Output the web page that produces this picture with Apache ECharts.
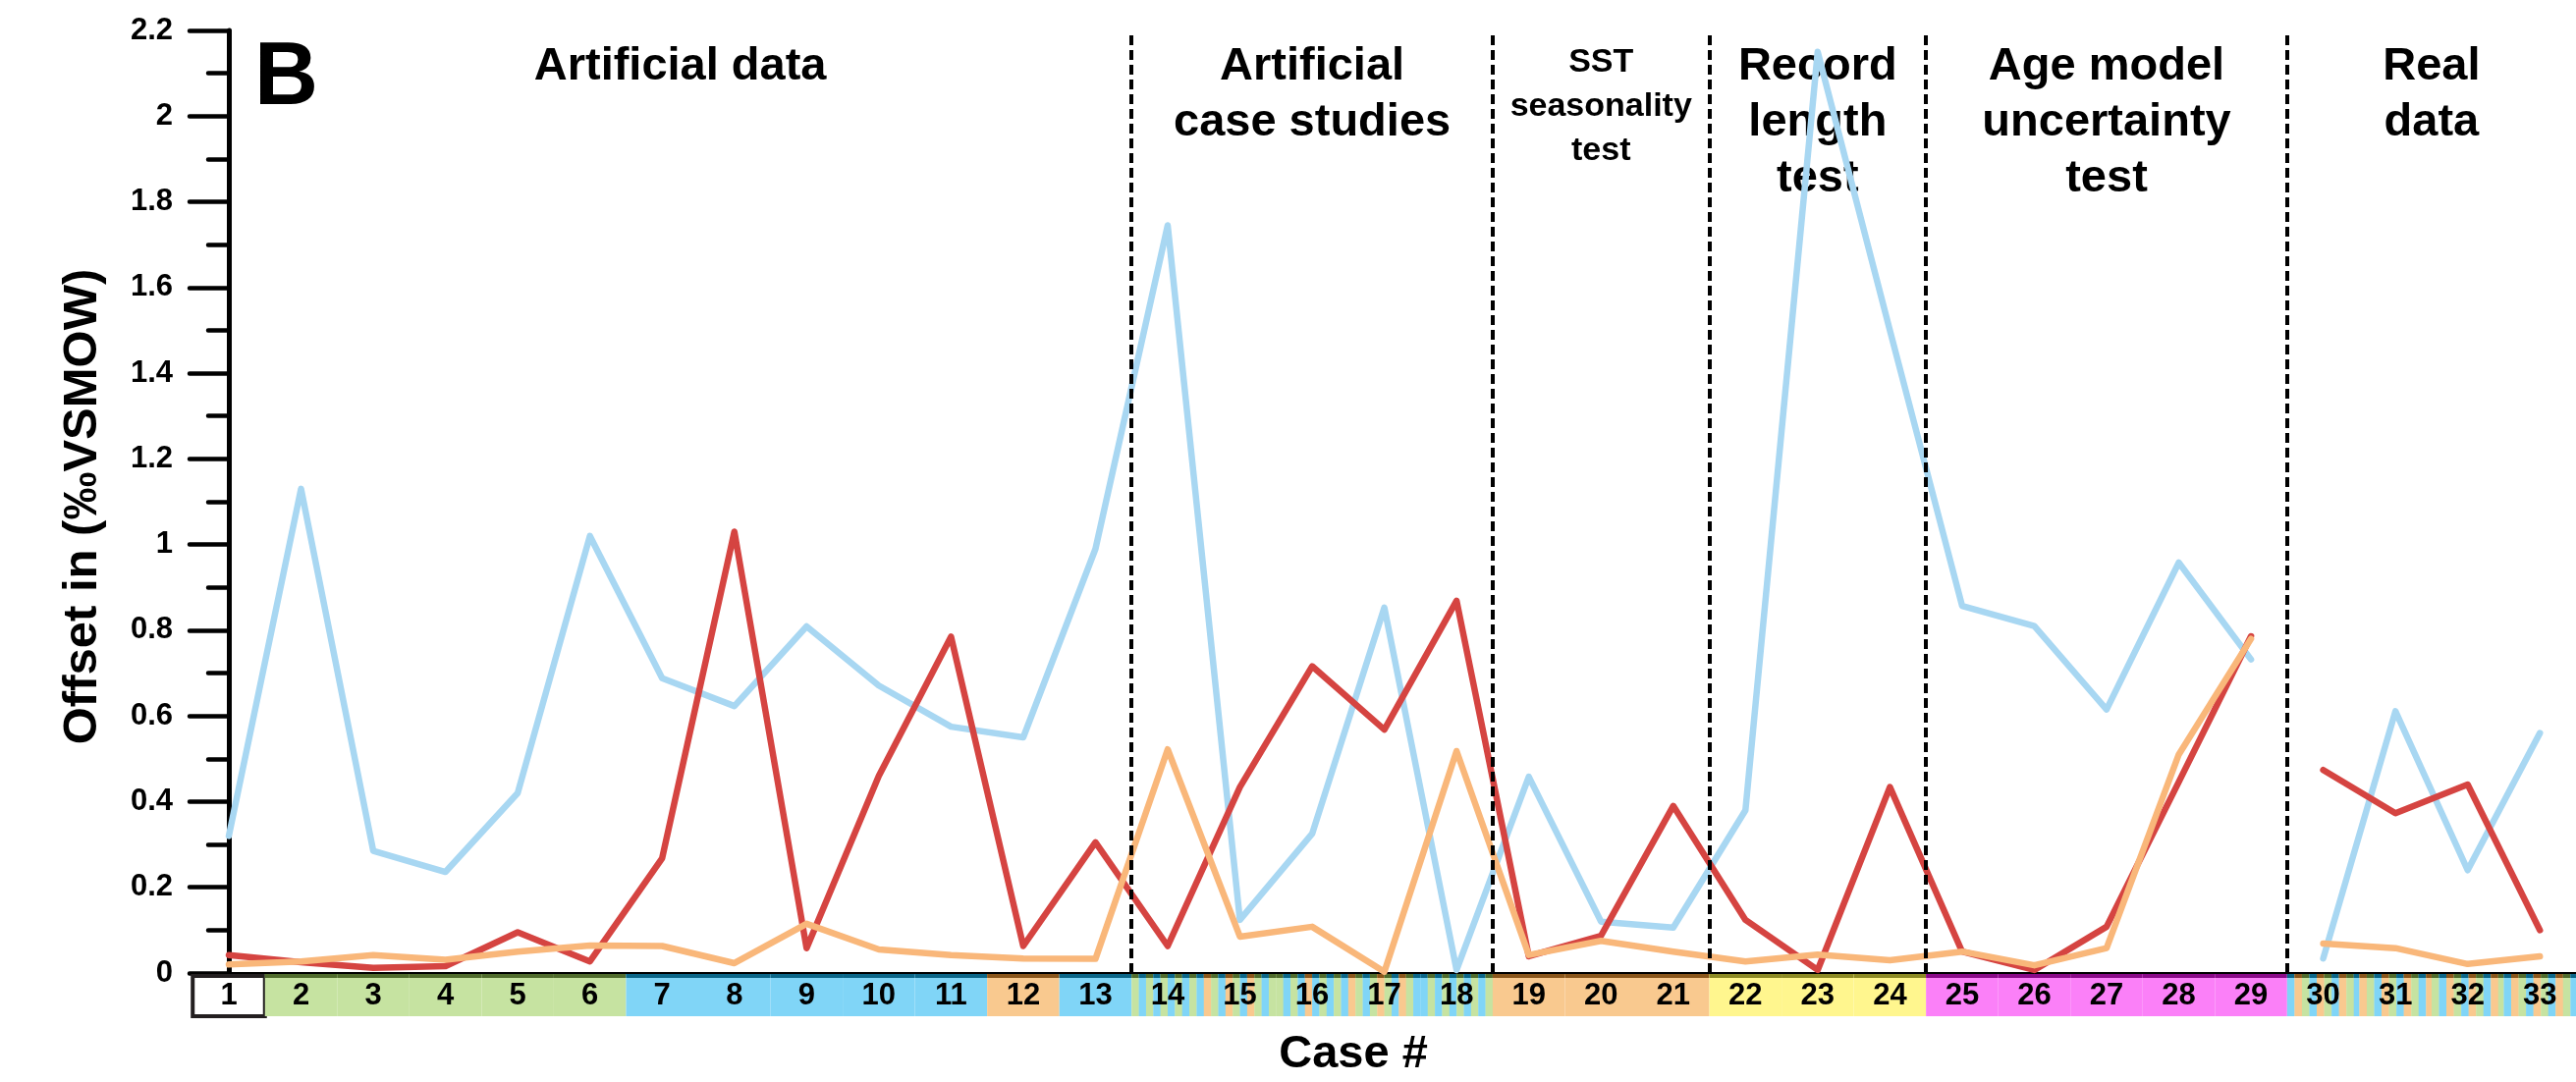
<!DOCTYPE html>
<html>
<head>
<meta charset="utf-8">
<script src="https://cdn.jsdelivr.net/npm/echarts@6/dist/echarts.min.js"></script>
<style>
html,body{margin:0;padding:0;background:#fff;}
#chart{width:2623px;height:1102px;}
</style>
</head>
<body>
<div id="chart"></div>
<script>
// ---------------- data ----------------
const cases = [1,2,3,4,5,6,7,8,9,10,11,12,13,14,15,16,17,18,19,20,21,22,23,24,25,26,27,28,29,30,31,32,33];
const blueValues = [0.32,1.13,0.285,0.236,0.42,1.02,0.688,0.623,0.809,0.671,0.575,0.55,0.99,1.745,0.124,0.325,0.853,0.007,0.458,0.12,0.106,0.38,2.15,1.50,0.857,0.81,0.615,0.958,0.732,0.034,0.611,0.24,0.56];
const redValues = [0.042,0.025,0.012,0.016,0.095,0.027,0.268,1.03,0.058,0.46,0.785,0.063,0.305,0.063,0.434,0.716,0.568,0.869,0.039,0.087,0.39,0.124,0.007,0.434,0.05,0.007,0.108,0.446,0.786,0.474,0.373,0.44,0.10];
const orangeValues = [0.02,0.027,0.042,0.031,0.05,0.064,0.063,0.023,0.115,0.055,0.042,0.034,0.033,0.522,0.085,0.108,0.003,0.518,0.042,0.075,0.05,0.027,0.043,0.03,0.05,0.018,0.058,0.51,0.78,0.069,0.058,0.021,0.039];
const lineBreakAfter = 29; // lines are not connected between case 29 and 30
const bandTypes = ['box','green','green','green','green','green','blue','blue','blue','blue','blue','orange','blue',
  'mix14','mix15','mix16','mix17','mix18','orange','orange','orange','yellow','yellow','yellow',
  'magenta','magenta','magenta','magenta','magenta','mixReal','mixReal','mixReal','mixReal'];
const sectionStarts = [1, 13.5, 18.5, 21.5, 24.5, 29.5];
const sectionEnds = [13.5, 18.5, 21.5, 24.5, 29.5, 33.5];
const sectionLabels = ['Artificial data', 'Artificial\ncase studies', 'SST\nseasonality\ntest', 'Record\nlength\ntest', 'Age model\nuncertainty\ntest', 'Real\ndata'];
const sectionSmall = [false, false, true, false, false, false];
const dividers = [13.5, 18.5, 21.5, 24.5, 29.5];

// ---------------- styles ----------------
const FONT = '"Liberation Sans", Arial, Helvetica, sans-serif';
const palette = {
  green: ['#c6e3a1', '#4f6b2c'],
  blue: ['#80d5f7', '#0b6688'],
  orange: ['#f9c98f', '#8a561b'],
  yellow: ['#fff68e', '#8c8a24'],
  magenta: ['#fb80f8', '#8a0a88']
};
const stripeSeq = {
  mix14: ['green','blue','green','blue','green','blue','green','blue','green','blue'],
  mix15: ['orange','green','blue','orange','green','blue','orange','green','blue','green'],
  mix16: ['green','blue','green','blue','orange','blue','green','blue','green','blue'],
  mix17: ['orange','green','blue','green','orange','green','blue','orange','green','blue'],
  mix18: ['blue','green','blue','green','blue','green','blue','green','blue','green'],
  mixReal: ['blue','orange','green']
};

function buildLine(vals) {
  const out = [];
  cases.forEach((c, i) => {
    out.push([c, vals[i]]);
    if (c === lineBreakAfter) out.push([c + 0.5, '-']);
  });
  return out;
}

const chart = echarts.init(document.getElementById('chart'), null, {renderer: 'canvas'});

const BAND_H = 42;

function renderBand(params, api) {
  const c = api.value(0);
  const t = bandTypes[params.dataIndex];
  const xl = api.coord([c - 0.5, 0])[0];
  const xr = api.coord([c + 0.5, 0])[0];
  const y0 = api.coord([c, 0])[1];
  const children = [];
  if (t === 'box') {
    children.push({type:'rect', shape:{x: xl, y: y0 + 3, width: xr - xl, height: 41},
      style:{fill:'#ffffff', stroke:'#231f20', lineWidth:4}});
  } else if (palette[t]) {
    children.push({type:'rect', shape:{x: xl, y: y0 + 1, width: xr - xl, height: BAND_H + 1},
      style:{fill: palette[t][0]}});
    children.push({type:'rect', shape:{x: xl, y: y0 + 1, width: xr - xl, height: 4},
      style:{fill: palette[t][1]}});
  } else {
    const seq = stripeSeq[t];
    const sw = (xr - xl) / (t === 'mixReal' ? 9.75 : 10);
    let k = (t === 'mixReal') ? (params.dataIndex - 29) * 10 : 0;
    for (let x = xl; x < xr - 0.01; x += sw) {
      const w = Math.min(sw, xr - x);
      const col = palette[seq[k % seq.length]];
      children.push({type:'rect', shape:{x: x, y: y0 + 1, width: w + 0.3, height: BAND_H + 1}, style:{fill: col[0]}});
      children.push({type:'rect', shape:{x: x, y: y0 + 1, width: w + 0.3, height: 4}, style:{fill: col[1]}});
      k++;
    }
  }
  children.push({type:'text', x: (xl + xr) / 2, y: y0 + 23,
    style:{text: String(c), fill:'#000', fontSize: 31, fontWeight:'bold', fontFamily: FONT,
      align:'center', verticalAlign:'middle', textAlign:'center', textVerticalAlign:'middle'}});
  return {type:'group', children};
}

function renderSection(params, api) {
  const i = params.dataIndex;
  const cx = api.coord([api.value(0), 0])[0];
  const small = sectionSmall[i];
  const fs = small ? 34 : 47;
  const lh = small ? 45 : 57;
  const top = small ? 41 : 40;
  return {type:'text', x: cx, y: top,
    style:{text: sectionLabels[i], fill:'#000', fontSize: fs, fontWeight:'bold', fontFamily: FONT,
      lineHeight: lh, align:'center', verticalAlign:'top', textAlign:'center', textVerticalAlign:'top'}};
}

const option = {
  backgroundColor: '#ffffff',
  animation: false,
  grid: {left: 233, top: 31, width: 2397, height: 960, containLabel: false},
  xAxis: {
    type: 'value', min: 1, max: 33.5,
    axisLine: {show: true, lineStyle: {color: '#000', width: 3}},
    axisTick: {show: false}, axisLabel: {show: false}, splitLine: {show: false}
  },
  yAxis: {
    type: 'value', min: 0, max: 2.2, interval: 0.2,
    axisLine: {show: true, lineStyle: {color: '#000', width: 5, cap: 'round'}},
    axisTick: {show: true, length: 40, lineStyle: {color: '#000', width: 4.5, cap: 'round'}},
    minorTick: {show: true, splitNumber: 2, length: 21, lineStyle: {color: '#000', width: 4.5, cap: 'round'}},
    axisLabel: {show: true, margin: 57, color: '#000', fontSize: 31, fontWeight: 'bold', fontFamily: FONT,
      formatter: function (v) { return String(Math.round(v * 10) / 10); }},
    splitLine: {show: false}
  },
  graphic: [
    {type:'text', x: 259, y: 36, style:{text:'B', fill:'#000', fontSize: 90, fontWeight:'bold', fontFamily: FONT,
      align:'left', verticalAlign:'top', textAlign:'left', textVerticalAlign:'top'}},
    {type:'text', x: 84, y: 516, rotation: Math.PI / 2,
      style:{text:'Offset in (‰VSMOW)', fill:'#000', fontSize: 49, fontWeight:'bold', fontFamily: FONT,
        align:'center', verticalAlign:'middle', textAlign:'center', textVerticalAlign:'middle'}},
    {type:'text', x: 1378, y: 1074, style:{text:'Case #', fill:'#000', fontSize: 47, fontWeight:'bold', fontFamily: FONT,
      align:'center', verticalAlign:'middle', textAlign:'center', textVerticalAlign:'middle'}}
  ],
  series: [
    {type:'custom', name:'bands', renderItem: renderBand, clip: false, silent: true, z: 1,
      data: cases.map(c => [c, 0])},
    {type:'custom', name:'sections', renderItem: renderSection, clip: false, silent: true, z: 1,
      data: sectionStarts.map((s, i) => [(s + sectionEnds[i]) / 2, 0])},
    {type:'line', name:'blue', data: buildLine(blueValues), showSymbol: false, connectNulls: false, z: 2,
      lineStyle: {color: '#a8d7f2', width: 6.5, join: 'round', cap: 'round'}},
    {type:'line', name:'red', data: buildLine(redValues), showSymbol: false, connectNulls: false, z: 3,
      lineStyle: {color: '#d54441', width: 6.5, join: 'round', cap: 'round'}},
    {type:'line', name:'orange', data: buildLine(orangeValues), showSymbol: false, connectNulls: false, z: 4,
      lineStyle: {color: '#f9b77a', width: 6.5, join: 'round', cap: 'round'}},
    {type:'line', name:'dividers', data: [], z: 6, silent: true,
      markLine: {silent: true, symbol: ['none','none'], animation: false,
        label: {show: false},
        lineStyle: {color: '#000', width: 4, type: [10, 5]},
        data: dividers.map(d => ({xAxis: d}))}}
  ]
};
chart.setOption(option);
</script>
</body>
</html>
